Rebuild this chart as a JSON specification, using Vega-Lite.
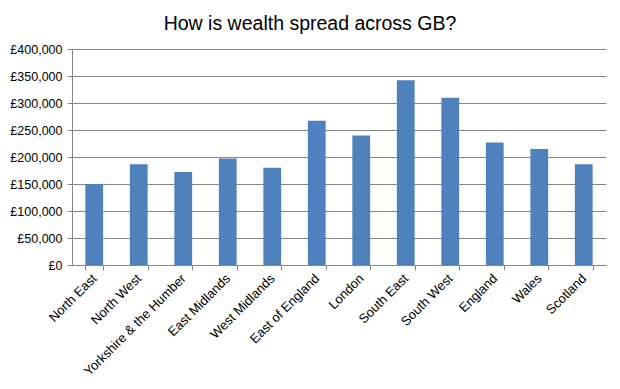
{
  "$schema": "https://vega.github.io/schema/vega-lite/v6.json",
  "autosize": {"type": "none"},
  "width": 534,
  "height": 216,
  "padding": {"left": 72, "top": 49, "right": 14, "bottom": 124},
  "background": "white",
  "title": {
    "text": "How is wealth spread across GB?",
    "font": "Liberation Sans",
    "fontSize": 19.5,
    "fontWeight": "normal",
    "color": "#000000",
    "anchor": "middle",
    "offset": -6,
    "dx": -29,
    "baseline": "alphabetic"
  },
  "data": {
    "values": [
      {"region": "North East", "wealth": 150000},
      {"region": "North West", "wealth": 186700},
      {"region": "Yorkshire & the Humber", "wealth": 172000},
      {"region": "East Midlands", "wealth": 197200},
      {"region": "West Midlands", "wealth": 180000},
      {"region": "East of England", "wealth": 267000},
      {"region": "London", "wealth": 240000},
      {"region": "South East", "wealth": 342000},
      {"region": "South West", "wealth": 309700},
      {"region": "England", "wealth": 227000},
      {"region": "Wales", "wealth": 215000},
      {"region": "Scotland", "wealth": 186700}
    ]
  },
  "mark": {"type": "bar", "color": "#4F81BD"},
  "encoding": {
    "x": {
      "field": "region",
      "type": "nominal",
      "sort": null,
      "scale": {"paddingInner": 0.6, "paddingOuter": 0.3},
      "axis": {
        "title": null,
        "labelAngle": -45,
        "labelAlign": "right",
        "labelBaseline": "middle",
        "labelFont": "Liberation Sans",
        "labelFontSize": 13,
        "labelColor": "#000000",
        "labelPadding": 6,
        "tickBand": "extent",
        "tickSize": 5,
        "tickColor": "#868686",
        "domainColor": "#868686",
        "grid": false
      }
    },
    "y": {
      "field": "wealth",
      "type": "quantitative",
      "scale": {"domain": [0, 400000], "nice": false},
      "axis": {
        "title": null,
        "values": [0, 50000, 100000, 150000, 200000, 250000, 300000, 350000, 400000],
        "labelExpr": "'£' + format(datum.value, ',')",
        "labelFont": "Liberation Sans",
        "labelFontSize": 12.5,
        "labelColor": "#000000",
        "labelPadding": 5,
        "tickSize": 5,
        "tickColor": "#868686",
        "domainColor": "#868686",
        "grid": true,
        "gridColor": "#868686",
        "gridWidth": 1
      }
    }
  },
  "config": {"view": {"stroke": null}}
}
